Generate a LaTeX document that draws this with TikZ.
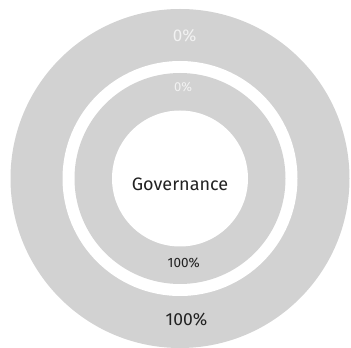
\documentclass[tikz,border=0pt]{standalone}
\usepackage{fontspec}
\setmainfont{Fira Sans}
\definecolor{ringgray}{HTML}{D2D2D2}
\definecolor{txtdark}{HTML}{222222}
\definecolor{txtlight}{HTML}{F2F2F2}
\begin{document}
\begin{tikzpicture}[x=1pt,y=1pt,
  lbl/.style={inner sep=0pt,anchor=base}]
\useasboundingbox (0,0) rectangle (351,348);
\fill[white] (0,0) rectangle (351,348);
\coordinate (c) at (180,169.5);
\fill[ringgray] (c) circle[radius=169.5];
\fill[white] (c) circle[radius=117.5];
\fill[ringgray] (c) circle[radius=105.5];
\fill[white] (c) circle[radius=68];
\node[lbl,font=\fontsize{17}{19}\selectfont,text=txtlight] (o0) at (184.7,306.3) {0\%};
\node[lbl,font=\fontsize{17.5}{19}\selectfont,text=txtdark] (o100) at (186.5,22.7) {100\%};
\node[lbl,font=\fontsize{13}{15}\selectfont,text=txtlight] (i0) at (183,256.3) {0\%};
\node[lbl,font=\fontsize{13.5}{15}\selectfont,text=txtdark] (i100) at (183.7,80.7) {100\%};
\node[lbl,font=\fontsize{18}{20}\selectfont,text=txtdark] (gov) at (180,157.3) {Governance};
\end{tikzpicture}
\end{document}
